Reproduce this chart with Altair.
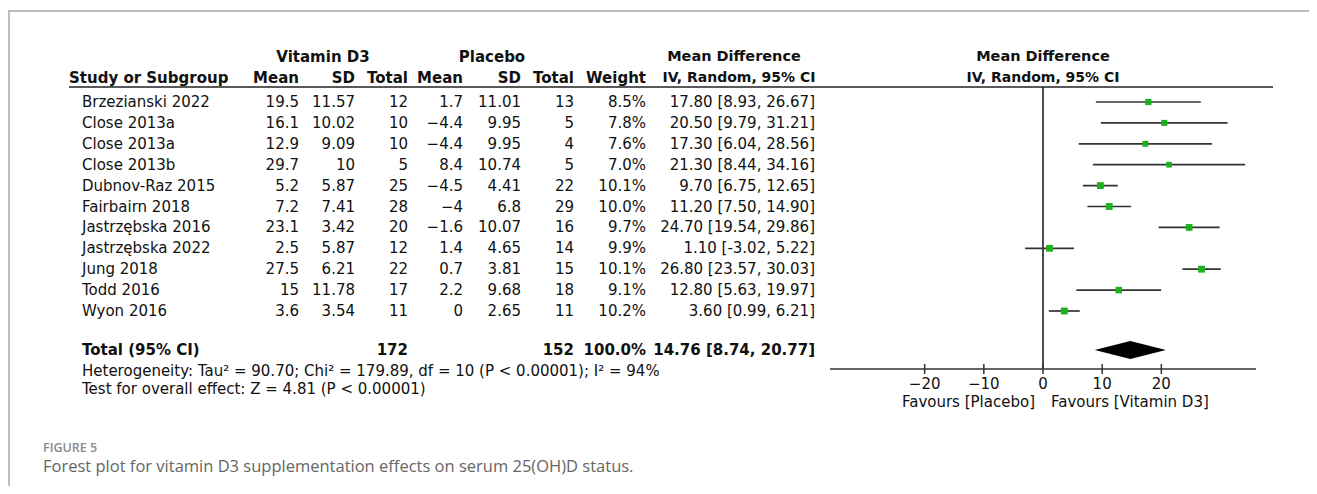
import altair as alt
import pandas as pd

# ---------------- data ----------------
studies = ["Brzezianski 2022", "Close 2013a", "Close 2013a", "Close 2013b",
           "Dubnov-Raz 2015", "Fairbairn 2018", "Jastrzębska 2016",
           "Jastrzębska 2022", "Jung 2018", "Todd 2016", "Wyon 2016"]
vit_mean = [19.5, 16.1, 12.9, 29.7, 5.2, 7.2, 23.1, 2.5, 27.5, 15, 3.6]
vit_sd = [11.57, 10.02, 9.09, 10, 5.87, 7.41, 3.42, 5.87, 6.21, 11.78, 3.54]
vit_n = [12, 10, 10, 5, 25, 28, 20, 12, 22, 17, 11]
pl_mean = [1.7, -4.4, -4.4, 8.4, -4.5, -4, -1.6, 1.4, 0.7, 2.2, 0]
pl_sd = [11.01, 9.95, 9.95, 10.74, 4.41, 6.8, 10.07, 4.65, 3.81, 9.68, 2.65]
pl_n = [13, 5, 4, 5, 22, 29, 16, 14, 15, 18, 11]
weight = [8.5, 7.8, 7.6, 7.0, 10.1, 10.0, 9.7, 9.9, 10.1, 9.1, 10.2]
md = [17.80, 20.50, 17.30, 21.30, 9.70, 11.20, 24.70, 1.10, 26.80, 12.80, 3.60]
ci_lo = [8.93, 9.79, 6.04, 8.44, 6.75, 7.50, 19.54, -3.02, 23.57, 5.63, 0.99]
ci_hi = [26.67, 31.21, 28.56, 34.16, 12.65, 14.90, 29.86, 5.22, 30.03, 19.97, 6.21]

total_vit = 172
total_pl = 152
pooled = 14.76
pooled_lo = 8.74
pooled_hi = 20.77
tau2, chi2, dfree, i2, zval = 90.70, 179.89, 10, 94, 4.81

ticks = [-20, -10, 0, 10, 20]

# ---------------- helpers ----------------
def num(v):
    return f"{v:g}".replace("-", "\u2212")

df = pd.DataFrame({
    "row": list(range(len(studies))),
    "study": studies,
    "vm": [num(v) for v in vit_mean],
    "vs": [num(v) for v in vit_sd],
    "vn": [str(v) for v in vit_n],
    "pm": [num(v) for v in pl_mean],
    "ps": [num(v) for v in pl_sd],
    "pn": [str(v) for v in pl_n],
    "w": weight,
    "wt": [f"{w:.1f}%" for w in weight],
    "md": md,
    "lo": ci_lo,
    "hi": ci_hi,
    "ci": [f"{m:.2f} [{l:.2f}, {h:.2f}]" for m, l, h in zip(md, ci_lo, ci_hi)],
})

FONT = "DejaVu Sans"
FS = 15
INK = "#111111"

xscale = alt.Scale(domain=[-36, 36], range=[822, 1248], nice=False, zero=False)
yscale = alt.Scale(domain=[0, 10], range=[94, 303], nice=False, zero=False)
Y = alt.Y("row:Q", scale=yscale, axis=None)

one = alt.Data(values=[{"a": 1}])


def label(text, x, y, align="left", bold=False, font=FONT, size=FS, color=INK, weight=None):
    fw = weight if weight is not None else ("bold" if bold else "normal")
    return alt.Chart(one).mark_text(
        text=text, align=align, baseline="middle", font=font, fontSize=size,
        fontWeight=fw, color=color
    ).encode(x=alt.value(x), y=alt.value(y))


layers = []

# frame lines
layers.append(alt.Chart(one).mark_rule(color="#bdbdbd", strokeWidth=2).encode(
    x=alt.value(0), x2=alt.value(1301), y=alt.value(3)))
layers.append(alt.Chart(one).mark_rule(color="#bdbdbd", strokeWidth=2).encode(
    x=alt.value(1), y=alt.value(3), y2=alt.value(478)))

# header rule
layers.append(alt.Chart(one).mark_rule(color="#222222", strokeWidth=1.5).encode(
    x=alt.value(61), x2=alt.value(1265), y=alt.value(79)))

# headers
H1, H2 = 49, 70
layers += [
    label("Vitamin D3", 315, H1, "center", True),
    label("Placebo", 484, H1, "center", True),
    label("Mean Difference", 726, H1, "center", True, size=14.5),
    label("Study or Subgroup", 61, H2, "left", True),
    label("Mean", 291, H2, "right", True),
    label("SD", 347, H2, "right", True),
    label("Total", 400, H2, "right", True),
    label("Mean", 455, H2, "right", True),
    label("SD", 513, H2, "right", True),
    label("Total", 566, H2, "right", True),
    label("Weight", 638, H2, "right", True),
    label("IV, Random, 95% CI", 731, H2, "center", True, size=14),
]

# right-side headers centred on zero line
for txt, yy, sz in [("Mean Difference", H1, 14.5), ("IV, Random, 95% CI", H2, 14)]:
    layers.append(alt.Chart(one).mark_text(
        text=txt, align="center", baseline="middle", font=FONT, fontSize=sz,
        fontWeight="bold", color=INK
    ).encode(x=alt.X(datum=0, type="quantitative", scale=xscale, axis=None), y=alt.value(yy)))

# table rows
base = alt.Chart(df)
layers.append(base.mark_text(align="left", baseline="middle", font=FONT, fontSize=FS, color=INK)
              .encode(x=alt.value(74), y=Y, text="study:N"))
for col, px in [("vm", 291), ("vs", 347), ("vn", 400), ("pm", 455), ("ps", 513),
                ("pn", 566), ("wt", 638), ("ci", 807)]:
    layers.append(base.mark_text(align="right", baseline="middle", font=FONT, fontSize=FS, color=INK)
                  .encode(x=alt.value(px), y=Y, text=f"{col}:N"))

# total row
TR = 342
layers += [
    label("Total (95% CI)", 74, TR, "left", True),
    label(str(total_vit), 400, TR, "right", True),
    label(str(total_pl), 566, TR, "right", True),
    label("100.0%", 638, TR, "right", True),
    label(f"{pooled:.2f} [{pooled_lo:.2f}, {pooled_hi:.2f}]", 807, TR, "right", True),
]
layers += [
    label(f"Heterogeneity: Tau\u00b2 = {tau2:.2f}; Chi\u00b2 = {chi2:.2f}, df = {dfree} (P < 0.00001); I\u00b2 = {i2}%", 74, 363),
    label(f"Test for overall effect: Z = {zval:.2f} (P < 0.00001)", 74, 381),
]

# forest: zero line
layers.append(alt.Chart(one).mark_rule(color="#111111", strokeWidth=1.5).encode(
    x=alt.X(datum=0, type="quantitative", scale=xscale, axis=None),
    y=alt.value(79), y2=alt.value(361)))
# axis line
layers.append(alt.Chart(one).mark_rule(color="#333333", strokeWidth=1.5).encode(
    x=alt.X(datum=-36, type="quantitative", scale=xscale, axis=None),
    x2=alt.X2(datum=36),
    y=alt.value(361)))
tick_df = pd.DataFrame({"t": ticks, "lab": [num(t) for t in ticks]})
layers.append(alt.Chart(tick_df).mark_rule(color="#333333", strokeWidth=1.5).encode(
    x=alt.X("t:Q", scale=xscale, axis=None), y=alt.value(356), y2=alt.value(366)))
layers.append(alt.Chart(tick_df).mark_text(baseline="middle", align="center", font=FONT,
                                           fontSize=FS, color=INK).encode(
    x=alt.X("t:Q", scale=xscale, axis=None), y=alt.value(376), text="lab:N"))
layers.append(alt.Chart(one).mark_text(text="Favours [Placebo]", align="right", baseline="middle",
                                       font=FONT, fontSize=FS, color=INK, dx=-8).encode(
    x=alt.X(datum=0, type="quantitative", scale=xscale, axis=None), y=alt.value(394)))
layers.append(alt.Chart(one).mark_text(text="Favours [Vitamin D3]", align="left", baseline="middle",
                                       font=FONT, fontSize=FS, color=INK, dx=8).encode(
    x=alt.X(datum=0, type="quantitative", scale=xscale, axis=None), y=alt.value(394)))

# CI lines and squares
layers.append(base.mark_rule(color="#333333", strokeWidth=1.7).encode(
    x=alt.X("lo:Q", scale=xscale, axis=None), x2="hi:Q", y=Y))
layers.append(base.mark_square(color="#1fb01f", opacity=1, filled=True).encode(
    x=alt.X("md:Q", scale=xscale, axis=None), y=Y,
    size=alt.Size("w:Q", scale=alt.Scale(domain=[0, 12], range=[0, 56]), legend=None)))

# pooled diamond
c = (TR - 94) / 20.9
h = 9 / 20.9
dia = pd.DataFrame({"x": [pooled_lo, pooled, pooled_hi], "y": [c, c - h, c], "y2": [c, c + h, c]})
layers.append(alt.Chart(dia).mark_area(color="#000000", orient="vertical").encode(
    x=alt.X("x:Q", scale=xscale, axis=None),
    y=alt.Y("y:Q", scale=yscale, axis=None), y2="y2:Q"))

# caption
layers.append(label("FIGURE 5", 35, 440, "left", font="Open Sans", size=12.5, color="#8a8a8a", weight=600))
layers.append(label("Forest plot for vitamin D3 supplementation effects on serum 25(OH)D status.",
                    35, 459, "left", font="Open Sans", size=16.5, color="#666666"))

chart = alt.layer(*layers).properties(
    width=1301, height=478, padding=0, autosize=alt.AutoSizeParams(type="none")
).configure_view(stroke=None)

chart.save("out.html", embed_options={"renderer": "svg", "actions": False})
